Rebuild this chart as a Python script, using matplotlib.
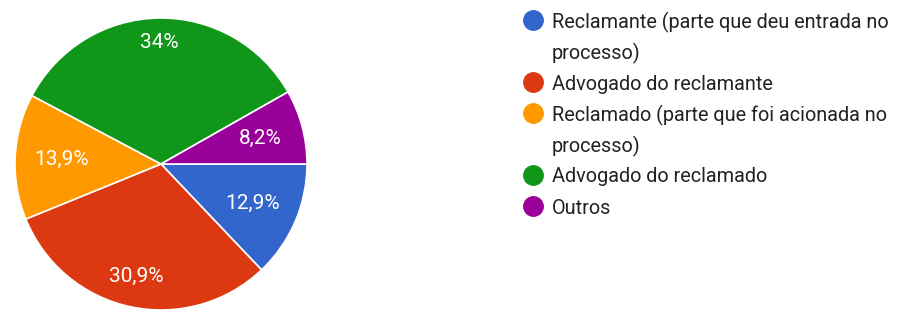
import numpy as np
import matplotlib.pyplot as plt

plt.rcParams['font.family'] = ['Roboto', 'DejaVu Sans']

categories = ['Reclamante (parte que deu entrada no\nprocesso)',
              'Advogado do reclamante',
              'Reclamado (parte que foi acionada no\nprocesso)',
              'Advogado do reclamado',
              'Outros']
values = [12.9, 30.9, 13.9, 34.0, 8.2]
pct_labels = ['12,9%', '30,9%', '13,9%', '34%', '8,2%']
colors = ['#3366CC', '#DC3912', '#FF9900', '#109618', '#990099']
label_radius = [0.68, 0.79, 0.68, 0.83, 0.70]

W, H = 897, 315
fig = plt.figure(figsize=(W / 100, H / 100), dpi=100)

# pie, centred at about (161, 164) px with radius 146 px
cx, cy, r = 161, 164, 146
ax = fig.add_axes([(cx - r) / W, (H - cy - r) / H, 2 * r / W, 2 * r / H])
wedges, _ = ax.pie(values, colors=colors, startangle=0, counterclock=False,
                   radius=1, wedgeprops=dict(edgecolor='white', linewidth=1.2))
ax.set(aspect='equal', xlim=(-1, 1), ylim=(-1, 1))

for w, lab, rr in zip(wedges, pct_labels, label_radius):
    ang = np.deg2rad((w.theta1 + w.theta2) / 2)
    ax.text(rr * np.cos(ang), rr * np.sin(ang), lab, color='white',
            fontsize=15, ha='center', va='center')

# legend, drawn by hand in pixel coordinates
lg = fig.add_axes([0, 0, 1, 1])
lg.set_xlim(0, W)
lg.set_ylim(H, 0)
lg.axis('off')
y = 20
step = 31
for c, name in zip(colors, categories):
    lg.plot(533, y, marker='o', ms=14, color=c, mec=c)
    for line in name.split('\n'):
        lg.text(552, y, line, fontsize=14.3, color='#222222',
                va='center_baseline')
        y += step

fig.savefig('out.png', dpi=100, facecolor='white')
